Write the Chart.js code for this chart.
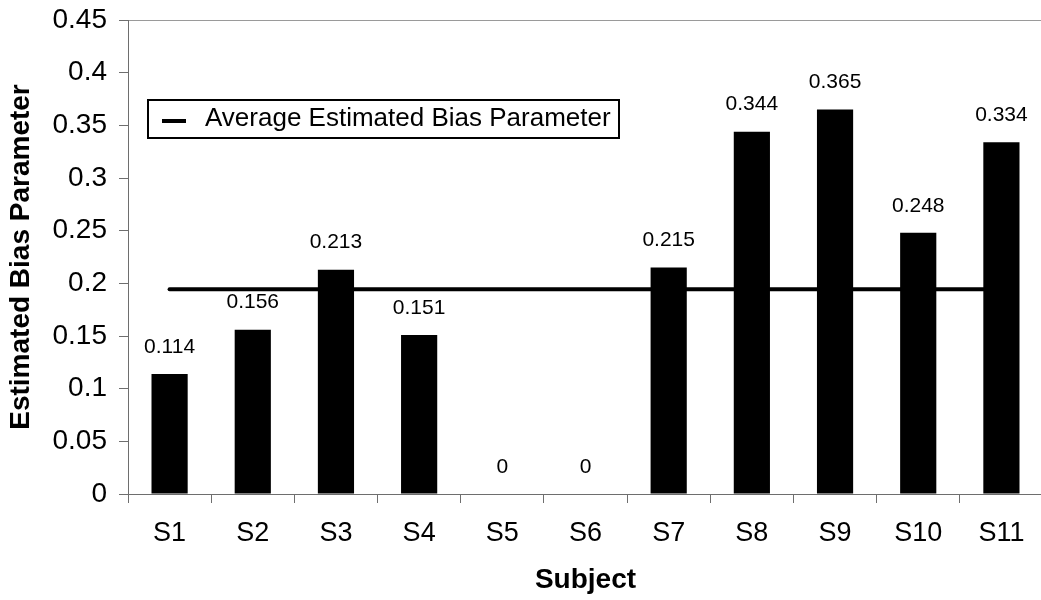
<!DOCTYPE html>
<html>
<head>
<meta charset="utf-8">
<script src="https://cdn.jsdelivr.net/npm/chart.js@4"></script>
<style>
  html, body { margin: 0; padding: 0; overflow: hidden; background: #fff; }
  #wrap { position: absolute; left: 0; top: 0; width: 1043px; height: 600px; }
</style>
</head>
<body>
<div id="wrap"><canvas id="c"></canvas></div>
<script>
// Subjects and their estimated bias parameters
const subjects = ['S1', 'S2', 'S3', 'S4', 'S5', 'S6', 'S7', 'S8', 'S9', 'S10', 'S11'];
const biasValues = [0.114, 0.156, 0.213, 0.151, 0, 0, 0.215, 0.344, 0.365, 0.248, 0.334];
// Average across subjects, shown as a horizontal reference line
const averageBias = [0.1945, 0.1945, 0.1945, 0.1945, 0.1945, 0.1945, 0.1945, 0.1945, 0.1945, 0.1945, 0.1945];
const yTickLabels = ['0', '0.05', '0.1', '0.15', '0.2', '0.25', '0.3', '0.35', '0.4', '0.45'];

const FONT = 'Arial, "Liberation Sans", sans-serif';
const AXIS_GRAY = '#6e6e6e';

// Plot-area frame (top edge visible above the data)
const frame = {
  id: 'frame',
  beforeDraw(chart) {
    const { ctx, chartArea: a } = chart;
    ctx.save();
    ctx.strokeStyle = '#9a9a9a';
    ctx.lineWidth = 1;
    ctx.strokeRect(a.left + 0.5, a.top + 0.5, a.right - a.left, a.bottom - a.top);
    ctx.restore();
  }
};

// Value labels above each bar
const barLabels = {
  id: 'barLabels',
  afterDatasetsDraw(chart) {
    const { ctx } = chart;
    const meta = chart.getDatasetMeta(0);
    ctx.save();
    ctx.font = '21px ' + FONT;
    ctx.fillStyle = '#000';
    ctx.textAlign = 'center';
    ctx.textBaseline = 'middle';
    meta.data.forEach((bar, i) => {
      ctx.fillText(String(biasValues[i]), bar.x, bar.y - 27);
    });
    ctx.restore();
  }
};

// Boxed legend inside the plot area
const boxLegend = {
  id: 'boxLegend',
  afterDraw(chart) {
    const { ctx, chartArea: a } = chart;
    const ds = chart.data.datasets[1];
    const x = a.left + 20, y = 100, w = 471, h = 38;
    ctx.save();
    ctx.fillStyle = '#fff';
    ctx.fillRect(x, y, w, h);
    ctx.strokeStyle = '#000';
    ctx.lineWidth = 2;
    ctx.strokeRect(x, y, w, h);
    ctx.lineWidth = 4;
    ctx.beginPath();
    ctx.moveTo(x + 14, y + 21);
    ctx.lineTo(x + 38, y + 21);
    ctx.stroke();
    ctx.font = '26px ' + FONT;
    ctx.fillStyle = '#000';
    ctx.textAlign = 'left';
    ctx.textBaseline = 'middle';
    ctx.fillText(ds.label, x + 57, y + 19);
    ctx.restore();
  }
};

new Chart(document.getElementById('c'), {
  data: {
    labels: subjects,
    datasets: [
      {
        type: 'bar',
        label: 'Estimated Bias Parameter',
        data: biasValues,
        backgroundColor: '#000',
        borderWidth: 0,
        categoryPercentage: 1,
        barPercentage: 0.435,
        order: 2
      },
      {
        type: 'line',
        label: 'Average Estimated Bias Parameter',
        data: averageBias,
        borderColor: '#000',
        borderWidth: 4,
        borderCapStyle: 'round',
        pointRadius: 0,
        fill: false,
        order: 1
      }
    ]
  },
  options: {
    responsive: true,
    maintainAspectRatio: false,
    animation: false,
    layout: { padding: { top: 20, right: 0, bottom: 0, left: 0 } },
    plugins: {
      legend: { display: false },
      tooltip: { enabled: false }
    },
    scales: {
      x: {
        offset: true,
        grid: {
          offset: true,
          drawOnChartArea: false,
          drawTicks: true,
          tickLength: 9,
          color: AXIS_GRAY
        },
        border: { color: AXIS_GRAY, width: 1 },
        ticks: { color: '#000', font: { family: FONT, size: 27 }, padding: 14, maxRotation: 0 },
        title: {
          display: true,
          text: 'Subject',
          color: '#000',
          font: { family: FONT, size: 28, weight: 'bold' },
          padding: { top: 0, bottom: 3 }
        },
        afterFit(scale) { scale.height = 106; scale.paddingLeft = 0; scale.paddingRight = 0; }
      },
      y: {
        min: 0,
        max: 0.45,
        ticks: {
          stepSize: 0.05,
          color: '#000',
          font: { family: FONT, size: 28 },
          padding: 12,
          callback: (v, i) => yTickLabels[i]
        },
        grid: {
          drawOnChartArea: false,
          drawTicks: true,
          tickLength: 9,
          color: AXIS_GRAY
        },
        border: { color: AXIS_GRAY, width: 1 },
        title: {
          display: true,
          text: 'Estimated Bias Parameter',
          color: '#000',
          font: { family: FONT, size: 28, weight: 'bold' },
          padding: { top: 4, bottom: 0 }
        },
        afterFit(scale) { scale.width = 128; scale.paddingTop = 0; scale.paddingBottom = 0; }
      }
    }
  },
  plugins: [frame, barLabels, boxLegend]
});
</script>
</body>
</html>
